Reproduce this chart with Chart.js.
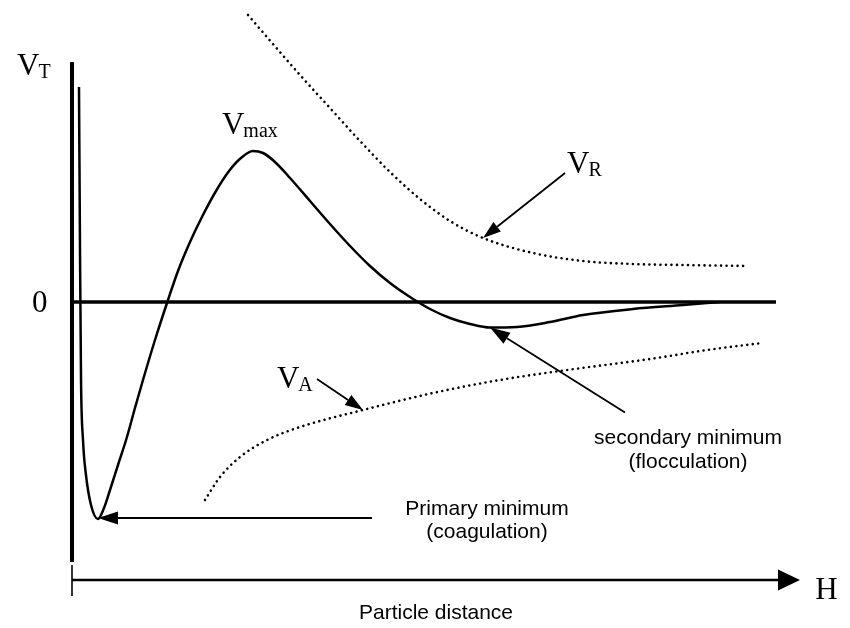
<!DOCTYPE html>
<html>
<head>
<meta charset="utf-8">
<script src="https://cdn.jsdelivr.net/npm/chart.js@4/dist/chart.umd.min.js"></script>
<style>
  html, body { margin: 0; padding: 0; background: #ffffff; }
  #wrap { width: 850px; height: 628px; }
</style>
</head>
<body>
<div id="wrap"><canvas id="dlvo" width="850" height="628"></canvas></div>
<script>
// Total interaction energy V_T against particle separation H (arbitrary units)
const distanceT = [0.96, 1.10, 1.24, 1.51, 1.92, 2.61, 3.57, 4.40, 5.22, 6.32, 7.55, 8.65, 9.75, 11.40,
  13.05, 14.56, 16.21, 17.99, 19.78, 21.57, 23.21, 24.86, 26.24, 27.88, 29.95, 32.69, 35.44, 38.19,
  40.93, 43.68, 46.43, 49.18, 51.92, 54.67, 57.42, 61.13, 65.66, 70.19, 77.06, 83.93, 89.0];
const energyT = [10.75, 2.6, -3.9, -6.9, -8.65, -10.15, -10.85, -10.3, -9.4, -8.15, -6.75, -5.3, -3.9, -1.9,
  -0.05, 1.55, 3.0, 4.35, 5.55, 6.55, 7.2, 7.55, 7.45, 7.0, 6.2, 5.05, 3.9, 2.8,
  1.8, 0.95, 0.25, -0.35, -0.8, -1.1, -1.28, -1.25, -1.0, -0.65, -0.35, -0.15, 0];

// Electrostatic repulsion V_R
const distanceR = [24.18, 27.61, 31.32, 35.44, 39.56, 43.68, 47.80, 51.92, 56.46, 63.32, 70.19, 77.06, 83.93, 92.86];
const energyR = [14.35, 12.9, 11.35, 9.7, 8.05, 6.5, 5.15, 4.05, 3.2, 2.45, 2.05, 1.9, 1.85, 1.8];

// van der Waals attraction V_A
const distanceA = [18.27, 20.33, 23.08, 26.79, 31.32, 39.97, 49.59, 58.79, 68.0, 79.4, 87.23, 94.78];
const energyA = [-9.9, -8.75, -7.75, -6.9, -6.25, -5.4, -4.55, -3.9, -3.4, -2.85, -2.4, -2.05];

// Axis extents in the same units
const xAxisEnd = 100;        // tip of the H arrow
const zeroLineEnd = 96.7;    // end of the V = 0 reference line
const yAxisTop = 12;
const yAxisBottom = -13;
const hAxisLevel = -13.9;

const serif = '"Liberation Serif", "Times New Roman", serif';
const sans = '"Liberation Sans", Arial, sans-serif';

const pts = (xs, ys) => xs.map((x, i) => ({ x, y: ys[i] }));

function indexOfMin(ys, from) {
  let k = from;
  for (let i = from; i < ys.length; i++) if (ys[i] < ys[k]) k = i;
  return k;
}
function indexOfMax(ys, from) {
  let k = from;
  for (let i = from; i < ys.length; i++) if (ys[i] > ys[k]) k = i;
  return k;
}

function arrow(ctx, x1, y1, x2, y2, opts) {
  const len = opts.head || 18, half = (opts.width || 12) / 2;
  const a = Math.atan2(y2 - y1, x2 - x1);
  const bx = x2 - len * Math.cos(a), by = y2 - len * Math.sin(a);
  ctx.save();
  ctx.strokeStyle = '#000';
  ctx.fillStyle = '#000';
  ctx.lineWidth = opts.line || 1.8;
  ctx.beginPath();
  ctx.moveTo(x1, y1);
  ctx.lineTo(bx, by);
  ctx.stroke();
  ctx.beginPath();
  ctx.moveTo(x2, y2);
  ctx.lineTo(bx + half * Math.sin(a), by - half * Math.cos(a));
  ctx.lineTo(bx - half * Math.sin(a), by + half * Math.cos(a));
  ctx.closePath();
  ctx.fill();
  ctx.restore();
}

function subLabel(ctx, main, sub, x, y) {
  ctx.save();
  ctx.fillStyle = '#000';
  ctx.textBaseline = 'alphabetic';
  ctx.textAlign = 'left';
  ctx.font = '31px ' + serif;
  ctx.fillText(main, x, y);
  const w = ctx.measureText(main).width;
  ctx.font = '20px ' + serif;
  ctx.fillText(sub, x + w - 1, y + 3);
  ctx.restore();
}

function centred(ctx, lines, x, y, gap) {
  ctx.save();
  ctx.fillStyle = '#000';
  ctx.font = '21px ' + sans;
  ctx.textAlign = 'center';
  ctx.textBaseline = 'alphabetic';
  lines.forEach((t, i) => ctx.fillText(t, x, y + i * gap));
  ctx.restore();
}

const diagramPlugin = {
  id: 'dlvoDiagram',
  beforeDatasetsDraw(chart) {
    const { ctx } = chart;
    const sx = chart.scales.x, sy = chart.scales.y;
    const x0 = sx.getPixelForValue(0);
    ctx.save();
    ctx.strokeStyle = '#000';
    ctx.lineCap = 'butt';
    // energy axis
    ctx.lineWidth = 4;
    ctx.beginPath();
    ctx.moveTo(x0, sy.getPixelForValue(yAxisTop));
    ctx.lineTo(x0, sy.getPixelForValue(yAxisBottom));
    ctx.stroke();
    // V = 0 line
    ctx.lineWidth = 3.4;
    ctx.beginPath();
    ctx.moveTo(x0, sy.getPixelForValue(0));
    ctx.lineTo(sx.getPixelForValue(zeroLineEnd), sy.getPixelForValue(0));
    ctx.stroke();
    // separation axis with its origin tick
    const hy = sy.getPixelForValue(hAxisLevel);
    ctx.lineWidth = 1.6;
    ctx.beginPath();
    ctx.moveTo(x0, hy - 15);
    ctx.lineTo(x0, hy + 16);
    ctx.stroke();
    ctx.restore();
    arrow(ctx, x0, hy, sx.getPixelForValue(xAxisEnd), hy, { head: 22, width: 21, line: 2.4 });
  },
  afterDatasetsDraw(chart) {
    const { ctx } = chart;
    const sx = chart.scales.x, sy = chart.scales.y;
    const px = (x) => sx.getPixelForValue(x);
    const py = (y) => sy.getPixelForValue(y);

    // axis labels
    subLabel(ctx, 'V', 'T', px(-7.55), py(11.35));
    ctx.save();
    ctx.fillStyle = '#000';
    ctx.font = '31px ' + serif;
    ctx.textAlign = 'left';
    ctx.fillText('0', px(-5.5), py(-0.5));
    ctx.fillText('H', px(102.1), py(-14.85));
    ctx.restore();
    centred(ctx, ['Particle distance'], px(50), py(-15.85), 0);

    // primary minimum, energy barrier, secondary minimum
    const iP = indexOfMin(energyT, 0);
    const iMax = indexOfMax(energyT, iP);
    const iS = indexOfMin(energyT, iMax);

    subLabel(ctx, 'V', 'max', px(distanceT[iMax]) - 31, py(energyT[iMax]) - 17);

    // repulsion curve label
    const iR = 8;
    const rx = px(distanceR[iR]), ry = py(energyR[iR]);
    arrow(ctx, rx + 82, ry - 65, rx, ry, { head: 18, width: 12 });
    subLabel(ctx, 'V', 'R', rx + 84, ry - 65);

    // attraction curve label
    const iA = 5;
    const ax = px(distanceA[iA]), ay = py(energyA[iA]);
    arrow(ctx, ax - 46, ay - 31, ax, ay, { head: 18, width: 12 });
    subLabel(ctx, 'V', 'A', ax - 86, ay - 22);

    const mx = px(distanceT[iP]), my = py(energyT[iP]);
    arrow(ctx, mx + 274, my - 1, mx, my - 1, { head: 20, width: 13 });
    centred(ctx, ['Primary minimum', '(coagulation)'], mx + 389, my - 4, 23);

    const qx = px(distanceT[iS]), qy = py(energyT[iS]);
    arrow(ctx, qx + 135, qy + 85, qx, qy, { head: 20, width: 13 });
    centred(ctx, ['secondary minimum', '(flocculation)'], qx + 198, qy + 116, 24);
  }
};

const dotted = {
  borderColor: '#000',
  borderWidth: 2.6,
  borderDash: [0.01, 5.5],
  borderCapStyle: 'round',
  pointRadius: 0,
  cubicInterpolationMode: 'monotone',
  fill: false,
  clip: false
};

const chart = new Chart(document.getElementById('dlvo'), {
  type: 'line',
  data: {
    datasets: [
      {
        label: 'V_T',
        data: pts(distanceT, energyT),
        borderColor: '#000',
        borderWidth: 2.5,
        pointRadius: 0,
        cubicInterpolationMode: 'monotone',
        fill: false,
        clip: false
      },
      Object.assign({ label: 'V_R', data: pts(distanceR, energyR) }, dotted),
      Object.assign({ label: 'V_A', data: pts(distanceA, energyA) }, dotted)
    ]
  },
  options: {
    responsive: false,
    animation: false,
    devicePixelRatio: 1,
    layout: { padding: { left: 72, right: 50, top: 0, bottom: 46 } },
    plugins: { legend: { display: false }, title: { display: false }, tooltip: { enabled: false } },
    scales: {
      x: { type: 'linear', min: 0, max: 100, display: false },
      y: { type: 'linear', min: -14, max: 15.1, display: false }
    }
  },
  plugins: [diagramPlugin]
});
</script>
</body>
</html>
